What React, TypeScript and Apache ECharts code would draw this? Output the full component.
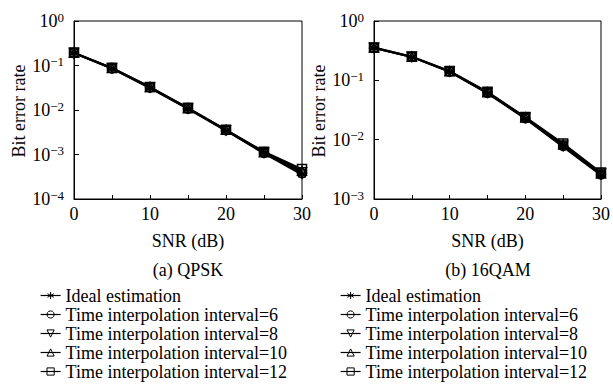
import React, { useEffect, useRef } from "react";
import * as echarts from "echarts";

const snr = [0, 5, 10, 15, 20, 25, 30];
const seriesNames = [
  "Ideal estimation",
  "Time interpolation interval=6",
  "Time interpolation interval=8",
  "Time interpolation interval=10",
  "Time interpolation interval=12",
];
const qpskIdeal = [0.19, 0.085, 0.031, 0.0105, 0.0034, 0.00105, 0.00035];
const qpskI6 = [0.19, 0.086, 0.032, 0.0107, 0.0035, 0.00108, 0.00038];
const qpskI8 = [0.192, 0.087, 0.032, 0.0108, 0.0035, 0.0011, 0.0004];
const qpskI10 = [0.193, 0.088, 0.033, 0.011, 0.0036, 0.00113, 0.00043];
const qpskI12 = [0.195, 0.089, 0.033, 0.0112, 0.0036, 0.00116, 0.00047];

const qamIdeal = [0.35, 0.245, 0.138, 0.06, 0.0225, 0.0075, 0.0025];
const qamI6 = [0.352, 0.247, 0.14, 0.061, 0.023, 0.0078, 0.0026];
const qamI8 = [0.354, 0.249, 0.141, 0.062, 0.0234, 0.008, 0.0027];
const qamI10 = [0.356, 0.25, 0.142, 0.063, 0.0237, 0.0083, 0.0027];
const qamI12 = [0.358, 0.252, 0.144, 0.064, 0.024, 0.0086, 0.0028];

const xTicks = [0, 10, 20, 30];
const captions = ["(a) QPSK", "(b) 16QAM"];
const yName = "Bit error rate";

const FONT = "Liberation Serif";
const star = "path://M0,-1L0,1M-0.866,-0.5L0.866,0.5M-0.866,0.5L0.866,-0.5M-1,0L1,0";
const symbols = [star, "circle", "path://M0,0L2,0L1,1.8Z", "path://M1,0L2,1.8L0,1.8Z", "rect"];

export default function App() {
  const ref = useRef<HTMLDivElement>(null);
  useEffect(() => {
    const chart = echarts.init(ref.current!, null, { renderer: "svg" });
    const qpsk = [qpskIdeal, qpskI6, qpskI8, qpskI10, qpskI12];
    const qam = [qamIdeal, qamI6, qamI8, qamI10, qamI12];
    const mkSeries = (data: number[][], idx: number) =>
      data.map((d, i) => ({
        type: "line",
        name: seriesNames[i],
        xAxisIndex: idx,
        yAxisIndex: idx,
        color: "#000",
        data: snr.map((x, j) => [x, d[j]]),
        symbol: symbols[i],
        symbolSize: 9,
        showAllSymbol: true,
        lineStyle: { color: "#000", width: 1.8 },
        itemStyle: { color: "transparent", borderColor: "#000", borderWidth: 1.5 },
        emphasis: { disabled: true },
      }));
    const yLabel = (v: number) => {
      const e = Math.round(Math.log10(v));
      return `{b|10}{s|${e === 0 ? "0" : "\u2212" + -e}}`;
    };
    const rich = {
      b: { fontSize: 18, fontFamily: FONT, color: "#000" },
      s: { fontSize: 13, fontFamily: FONT, color: "#000", padding: [0, 0, 8, 0] },
    };
    const grids = [
      { left: 74, top: 21, width: 228, height: 178 },
      { left: 374, top: 21, width: 228, height: 178 },
    ];
    const xAxis = [0, 1].map((i) => ({
      type: "value",
      gridIndex: i,
      min: 0,
      max: 30,
      interval: 10,
      name: "SNR (dB)",
      nameLocation: "middle",
      nameGap: 33,
      nameTextStyle: { fontSize: 18, fontFamily: FONT, color: "#000" },
      axisLine: { lineStyle: { color: "#000", width: 1 } },
      axisTick: { inside: true, length: 4, lineStyle: { color: "#000" } },
      minorTick: { show: true, splitNumber: 2, length: 4, lineStyle: { color: "#000" } },
      splitLine: { show: false },
      axisLabel: {
        fontSize: 18,
        fontFamily: FONT,
        color: "#000",
        margin: 6,
        formatter: (v: number) => (xTicks.includes(v) ? String(v) : ""),
      },
    }));
    const yAxis = [0, 1].map((i) => ({
      type: "log",
      logBase: 10,
      gridIndex: i,
      min: i === 0 ? 1e-4 : 1e-3,
      max: 1,
      interval: 1,
      axisLine: { show: true, lineStyle: { color: "#000", width: 1 } },
      axisTick: { inside: true, length: 5, lineStyle: { color: "#000" } },
      splitLine: { show: false },
      axisLabel: {
        formatter: yLabel,
        rich,
        margin: 10,
        fontSize: 18,
        fontFamily: FONT,
        color: "#000",
        hideOverlap: false,
      },
    }));
    chart.setOption({
      animation: false,
      backgroundColor: "#fff",
      textStyle: { fontFamily: FONT, fontSize: 18, color: "#000" },
      grid: grids.map((g) => ({
        ...g,
        show: true,
        borderColor: "#000",
        borderWidth: 1,
        backgroundColor: "transparent",
        containLabel: false,
      })),
      xAxis,
      yAxis,
      legend: [35, 335].map((l) => ({
        orient: "vertical",
        left: l,
        top: 281,
        itemWidth: 20,
        itemHeight: 9,
        itemGap: 0,
        selectedMode: false,
        itemStyle: { color: "transparent", borderColor: "#000", borderWidth: 1 },
        lineStyle: { color: "#000", width: 1.2 },
        textStyle: { fontSize: 18, fontFamily: FONT, color: "#000", lineHeight: 19 },
        data: seriesNames,
      })),
      graphic: [
        ...captions.map((c, i) => ({
          type: "text",
          x: i === 0 ? 188 : 488,
          y: 270,
          style: {
            text: c,
            font: `18px "${FONT}"`,
            fill: "#000",
            textAlign: "center",
            textVerticalAlign: "middle",
          },
        })),
        ...[19, 319].map((x) => ({
          type: "text",
          x,
          y: 111,
          rotation: Math.PI / 2,
          style: {
            text: yName,
            font: `18px "${FONT}"`,
            fill: "#000",
            textAlign: "center",
            textVerticalAlign: "middle",
          },
        })),
      ],
      series: [...mkSeries(qpsk, 0), ...mkSeries(qam, 1)],
    });
    return () => chart.dispose();
  }, []);
  return (
    <div
      ref={ref}
      style={{ position: "fixed", left: 0, top: 0, width: 613, height: 392 }}
    />
  );
}
